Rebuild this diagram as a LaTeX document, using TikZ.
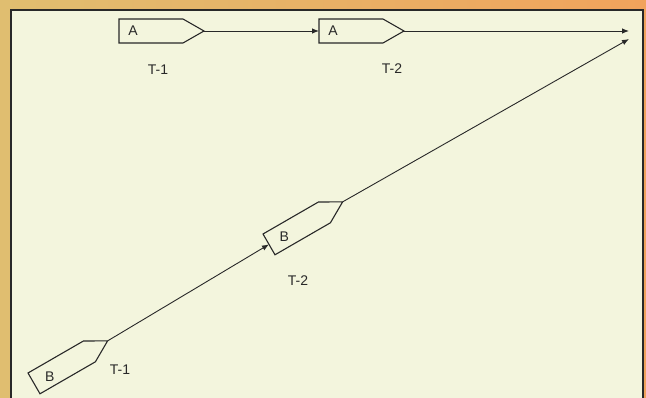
\documentclass[tikz,border=0pt]{standalone}
\usepackage{fontspec}
\setmainfont{Liberation Sans}
\usepackage{xcolor}
\usetikzlibrary{arrows.meta}

\definecolor{frameleft}{RGB}{224,190,112}
\definecolor{frameright}{RGB}{241,163,92}
\definecolor{paper}{RGB}{243,245,221}
\definecolor{ink}{RGB}{40,40,40}

% tag shape: name, back-top corner, angle, letter, letter position
\newcommand{\tagshape}[5]{%
  \begin{scope}[shift={#2}, rotate=#3]
    \draw[tagline] (0,0) -- (64,0) -- (85,12) -- (64,24) -- (0,24) -- cycle;
    \coordinate (#1-in) at (0,12);
    \coordinate (#1-out) at (85,12);
    \node[tagtext] (#1) at #5 {#4};
  \end{scope}}

\begin{document}
\begin{tikzpicture}[x=1pt, y=-1pt,
    tagline/.style={draw=ink, line width=1.1pt, line join=miter},
    tagtext/.style={font=\fontsize{14}{16}\selectfont, text=ink, inner sep=0pt},
    flow/.style={draw=ink, line width=0.9pt, -{Latex[length=7pt,width=5.5pt]}},
    caption/.style={font=\fontsize{14}{16}\selectfont, text=ink, inner sep=0pt}]
  \useasboundingbox (0,0) rectangle (646,398);

  % Frame and sheet
  \shade[left color=frameleft, right color=frameright] (0,0) rectangle (646,398);
  \fill[paper] (11,10) rectangle (643,398);
  \draw[ink, line width=1.1pt] (11,398) -- (11,10) -- (643,10) -- (643,398);

  % Ends of the flow lines
  \coordinate (endA) at (629,31);
  \coordinate (endB) at (629,39);

  % Tags A
  \tagshape{a1}{(119,19)}{0}{A}{(14,12)}
  \tagshape{a2}{(319,19)}{0}{A}{(14,12)}
  \node[caption] (a1cap) at (158,70) {T-1};
  \node[caption] (a2cap) at (392,69) {T-2};

  % Tags B
  \tagshape{b1}{(28,373)}{30}{B}{(17,14)}
  \tagshape{b2}{(263,234)}{30}{B}{(17,13)}
  \node[caption] (b1cap) at (120,370) {T-1};
  \node[caption] (b2cap) at (298,281) {T-2};

  % Flow
  \draw[flow] (a1-out) -- (a2-in);
  \draw[flow] (a2-out) -- (endA);
  \draw[flow] (b1-out) -- (b2-in);
  \draw[flow] (b2-out) -- (endB);
\end{tikzpicture}
\end{document}
